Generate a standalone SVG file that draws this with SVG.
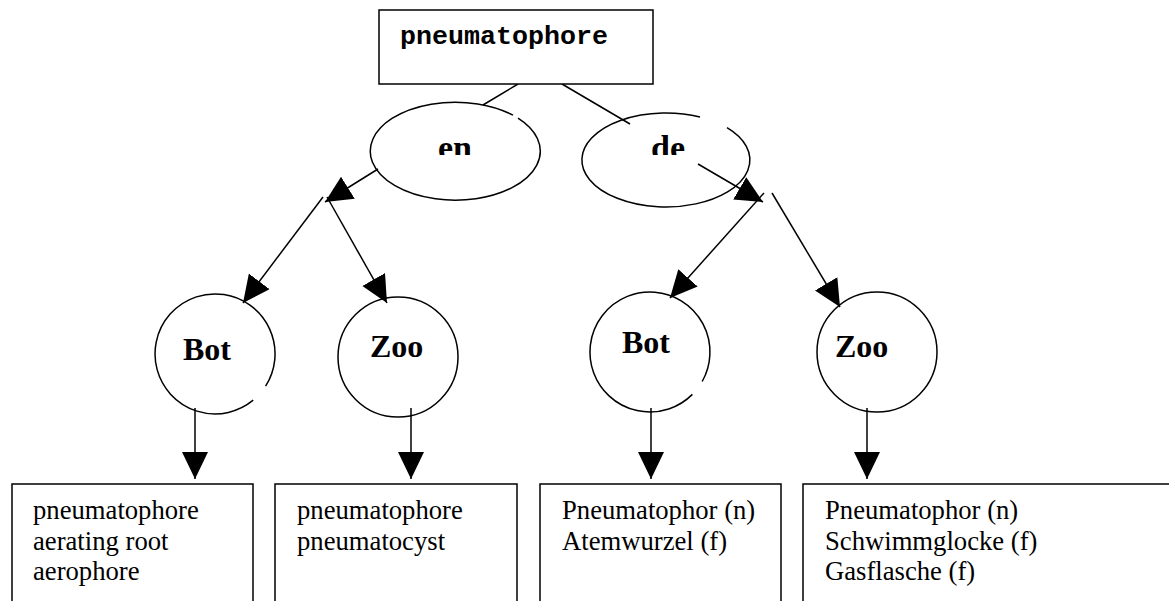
<svg xmlns="http://www.w3.org/2000/svg" width="1169" height="601" viewBox="0 0 1169 601">
<style>
.shape{fill:none;stroke:#000;stroke-width:1.5}
.box{fill:#fff;stroke:#000;stroke-width:1.5}
.conn{stroke:#000;stroke-width:1.5;fill:none}
.arr{marker-end:url(#ah)}
.mono{font-family:"Liberation Mono","Courier New",monospace;font-weight:bold;font-size:26.67px;fill:#000}
.lbl{font-family:"Liberation Serif","Times New Roman",serif;font-weight:bold;font-size:32px;fill:#000}
.lang{font-family:"Liberation Serif","Times New Roman",serif;font-weight:bold;font-size:34px;fill:#000}
.term{font-family:"Liberation Serif","Times New Roman",serif;font-size:26.67px;fill:#000}
</style>
<defs>
<marker id="ah" markerUnits="userSpaceOnUse" markerWidth="28" markerHeight="27" refX="27" refY="13" orient="auto">
<path d="M0,0 L27,13 L0,26 z" fill="#000"/>
</marker>
<clipPath id="clipLang"><rect x="0" y="0" width="1169" height="155"/></clipPath>
</defs>
<rect width="1169" height="601" fill="#fff"/>
<g id="connectors">
<line class="conn" x1="518" y1="84" x2="483" y2="105"/>
<line class="conn" x1="562" y1="84" x2="630" y2="124"/>
<line class="conn arr" x1="378" y1="169" x2="325" y2="202"/>
<line class="conn arr" x1="323" y1="197" x2="243" y2="303"/>
<line class="conn arr" x1="327" y1="197" x2="387" y2="303"/>
<line class="conn arr" x1="698" y1="164" x2="763" y2="202"/>
<line class="conn arr" x1="764" y1="193" x2="670" y2="298"/>
<line class="conn arr" x1="772" y1="193" x2="840" y2="307"/>
<line class="conn arr" x1="195" y1="408" x2="195" y2="479"/>
<line class="conn arr" x1="411" y1="408" x2="411" y2="479"/>
<line class="conn arr" x1="651" y1="408" x2="651" y2="479"/>
<line class="conn arr" x1="867" y1="408" x2="867" y2="479"/>
</g>
<g id="node-root">
<rect class="box" x="379" y="10" width="274" height="74"/>
<text class="mono" x="400" y="44">pneumatophore</text>
</g>
<g id="node-en">
<path class="shape" d="M518,118.1 A85,49 0 1 1 513,115.2"/>
<text class="lang" x="438" y="159" clip-path="url(#clipLang)">en</text>
</g>
<g id="node-de">
<path class="shape" d="M727,127.7 A84,47 0 1 1 700,117"/>
<text class="lang" x="651" y="159" clip-path="url(#clipLang)">de</text>
</g>
<g id="node-en-bot">
<path class="shape" d="M253.2,400.2 A60,60 0 1 1 265.6,386.2"/>
<text class="lbl" x="183" y="360">Bot</text>
</g>
<g id="node-en-zoo">
<circle class="shape" cx="398" cy="357" r="60"/>
<text class="lbl" x="370" y="357">Zoo</text>
</g>
<g id="node-de-bot">
<path class="shape" d="M692.4,394.4 A60,60 0 1 1 702.2,381.5"/>
<text class="lbl" x="622" y="353">Bot</text>
</g>
<g id="node-de-zoo">
<circle class="shape" cx="877" cy="352" r="60"/>
<text class="lbl" x="835" y="357">Zoo</text>
</g>
<g id="node-en-bot-terms">
<rect class="box" x="12" y="484" width="241" height="130"/>
<text class="term" x="33" y="519">pneumatophore</text>
<text class="term" x="33" y="549.5">aerating root</text>
<text class="term" x="33" y="580">aerophore</text>
</g>
<g id="node-en-zoo-terms">
<rect class="box" x="275" y="484" width="242" height="130"/>
<text class="term" x="297" y="519">pneumatophore</text>
<text class="term" x="297" y="549.5">pneumatocyst</text>
</g>
<g id="node-de-bot-terms">
<rect class="box" x="540" y="484" width="241" height="130"/>
<text class="term" x="562" y="519">Pneumatophor (n)</text>
<text class="term" x="562" y="549.5">Atemwurzel (f)</text>
</g>
<g id="node-de-zoo-terms">
<rect class="box" x="803" y="484" width="380" height="130"/>
<text class="term" x="825" y="519">Pneumatophor (n)</text>
<text class="term" x="825" y="549.5">Schwimmglocke (f)</text>
<text class="term" x="825" y="580">Gasflasche (f)</text>
</g>
</svg>
